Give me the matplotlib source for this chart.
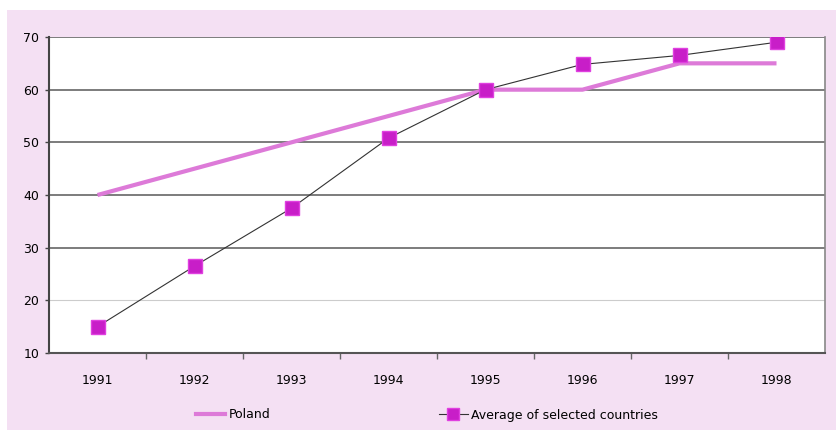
import matplotlib
matplotlib.use('Agg')
from matplotlib import pyplot as plt
from matplotlib.patches import Rectangle
from matplotlib.lines import Line2D

years = ['1991', '1992', '1993', '1994', '1995', '1996', '1997', '1998']
poland = [40, 45, 50, 55, 60, 60, 65, 65]
average = [15, 26.5, 37.5, 50.8, 60, 64.8, 66.5, 69]
y_ticks = [10, 20, 30, 40, 50, 60, 70]

pink_bg = '#f4e0f3'
poland_col = '#dd7ad8'
marker_col = '#c81ec8'

W, H = 836, 430
fig = plt.figure(figsize=(W / 100, H / 100), dpi=100)
fig.patch.set_facecolor('white')
# pink panel behind the chart
fig.patches.append(Rectangle((7 / W, 0), 1, 1 - 10 / H, transform=fig.transFigure,
                             facecolor=pink_bg, edgecolor='none', zorder=-1))

ax = fig.add_axes([49 / W, (H - 353) / H, (825 - 49) / W, (353 - 37) / H])
ax.set_facecolor('white')

x = list(range(len(years)))
ax.plot(x, poland, color=poland_col, lw=3, solid_capstyle='butt', zorder=3)
ax.plot(x, average, color='#333333', lw=0.8, marker='s', markersize=10.5,
        markerfacecolor=marker_col, markeredgecolor='#e040e0', markeredgewidth=1, zorder=4)

ax.set_xlim(-0.5, len(years) - 0.5)
ax.set_ylim(10, 70)
ax.set_yticks(y_ticks)
ax.set_yticklabels([str(v) for v in y_ticks], fontsize=9)
ax.set_xticks(x)
ax.set_xticklabels(years, fontsize=9)
ax.tick_params(axis='x', length=0, pad=15)
ax.tick_params(axis='y', length=3, width=1, color='#444444', pad=4)
# tick marks between categories
ax.set_xticks([i + 0.5 for i in x[:-1]], minor=True)
ax.tick_params(axis='x', which='minor', length=4, width=1, color='#666666')

ax.yaxis.grid(True, color='#666666', lw=1.2, zorder=1)
ax.set_axisbelow(True)
ax.get_ygridlines()[1].set_color('#cccccc')
ax.get_ygridlines()[1].set_linewidth(0.8)

ax.spines['left'].set_color('#444444')
ax.spines['left'].set_linewidth(1.5)
ax.spines['bottom'].set_color('#555555')
ax.spines['bottom'].set_linewidth(1.5)
ax.spines['right'].set_color('#888888')
ax.spines['right'].set_linewidth(1.2)
ax.spines['top'].set_visible(False)

handles = [
    Line2D([], [], color=poland_col, lw=3),
    Line2D([], [], color='#333333', lw=0.8, marker='s', markersize=8,
           markerfacecolor=marker_col, markeredgecolor='#e040e0'),
]
fig.legend(handles, ['Poland', 'Average of selected countries'], loc='center',
           bbox_to_anchor=(427 / W, 1 - 415 / H), ncol=2, frameon=False,
           fontsize=9, handlelength=2.3, handletextpad=0.3, columnspacing=13.5)

fig.savefig('out.png', dpi=100, facecolor=fig.get_facecolor())
